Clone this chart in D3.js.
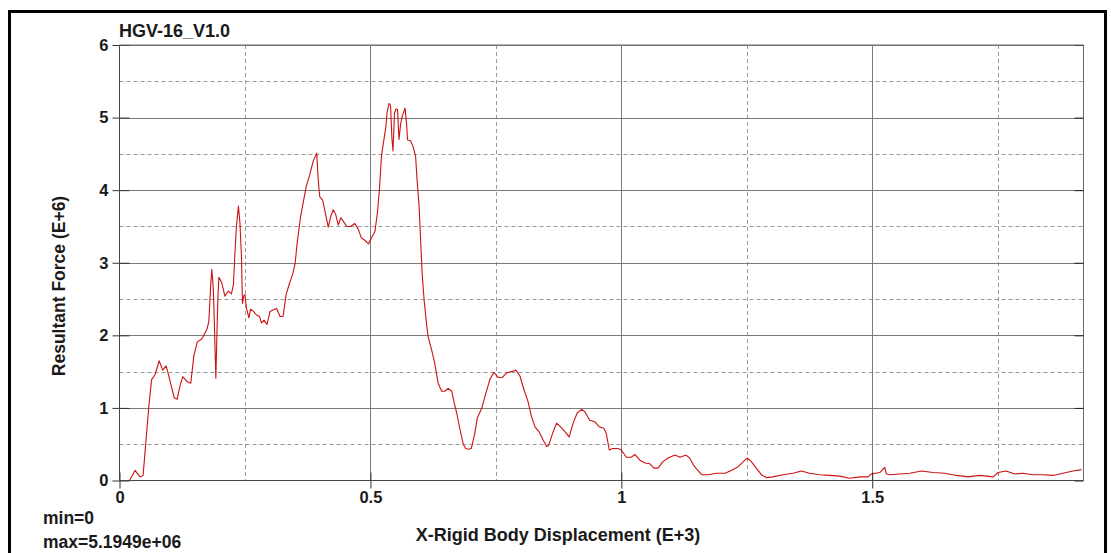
<!DOCTYPE html>
<html>
<head>
<meta charset="utf-8">
<script src="https://cdn.jsdelivr.net/npm/d3@7"></script>
<style>
  html, body { margin: 0; padding: 0; background: #fff; }
  svg { display: block; font-family: "Liberation Sans", Arial, sans-serif; }
  .lbl { font-weight: bold; fill: #1a1a1a; }
</style>
</head>
<body>
<svg id="chart" width="1111" height="553"></svg>
<script>
// Displacement (E+3) and resultant force (E+6) samples of the HGV-16_V1.0 run
const displacement = [
  0.000, 0.020, 0.031, 0.041, 0.047, 0.054, 0.059, 0.064, 0.071, 0.079,
  0.086, 0.093, 0.100, 0.109, 0.115, 0.120, 0.126, 0.135, 0.142, 0.148,
  0.155, 0.164, 0.174, 0.178, 0.182, 0.184, 0.187, 0.189, 0.191, 0.192,
  0.194, 0.196, 0.198, 0.204, 0.210, 0.217, 0.223, 0.227, 0.230, 0.233,
  0.237, 0.240, 0.243, 0.245, 0.248, 0.250, 0.253, 0.258, 0.261, 0.267,
  0.273, 0.279, 0.283, 0.288, 0.294, 0.300, 0.306, 0.313, 0.320, 0.326,
  0.332, 0.338, 0.345, 0.350, 0.354, 0.361, 0.372, 0.379, 0.386, 0.393,
  0.396, 0.399, 0.405, 0.410, 0.416, 0.421, 0.426, 0.431, 0.436, 0.441,
  0.446, 0.453, 0.460, 0.469, 0.476, 0.482, 0.489, 0.496, 0.502, 0.509,
  0.514, 0.518, 0.522, 0.527, 0.531, 0.533, 0.537, 0.540, 0.543, 0.545,
  0.548, 0.551, 0.554, 0.557, 0.560, 0.563, 0.569, 0.572, 0.574, 0.580,
  0.585, 0.590, 0.593, 0.597, 0.600, 0.603, 0.607, 0.611, 0.615, 0.622,
  0.628, 0.635, 0.642, 0.648, 0.655, 0.662, 0.668, 0.672, 0.678, 0.685,
  0.690, 0.696, 0.701, 0.708, 0.713, 0.722, 0.730, 0.738, 0.746, 0.755,
  0.763, 0.771, 0.781, 0.790, 0.798, 0.806, 0.814, 0.821, 0.828, 0.836,
  0.844, 0.851, 0.855, 0.863, 0.871, 0.879, 0.888, 0.896, 0.904, 0.912,
  0.921, 0.927, 0.937, 0.947, 0.956, 0.965, 0.970, 0.976, 0.983, 0.993,
  1.000, 1.010, 1.020, 1.027, 1.037, 1.047, 1.057, 1.065, 1.073, 1.083,
  1.093, 1.107, 1.117, 1.129, 1.136, 1.146, 1.160, 1.173, 1.190, 1.207,
  1.220, 1.233, 1.243, 1.251, 1.259, 1.269, 1.279, 1.289, 1.302, 1.322,
  1.342, 1.359, 1.375, 1.395, 1.415, 1.435, 1.455, 1.475, 1.492, 1.498,
  1.515, 1.525, 1.528, 1.535, 1.555, 1.575, 1.598, 1.621, 1.644, 1.668,
  1.691, 1.714, 1.741, 1.751, 1.767, 1.784, 1.800, 1.820, 1.840, 1.860,
  1.880, 1.900, 1.917
];
const force = [
  0.00, 0.00, 0.14, 0.05, 0.07, 0.65, 1.06, 1.39, 1.46, 1.65,
  1.52, 1.58, 1.39, 1.14, 1.12, 1.29, 1.43, 1.36, 1.34, 1.71,
  1.91, 1.95, 2.08, 2.19, 2.72, 2.91, 2.63, 2.17, 1.66, 1.41,
  1.98, 2.50, 2.80, 2.72, 2.54, 2.61, 2.57, 2.70, 3.13, 3.50,
  3.78, 3.55, 3.09, 2.44, 2.55, 2.56, 2.37, 2.24, 2.36, 2.33,
  2.28, 2.26, 2.17, 2.21, 2.15, 2.33, 2.35, 2.37, 2.26, 2.26,
  2.56, 2.70, 2.84, 2.99, 3.27, 3.64, 4.05, 4.21, 4.40, 4.51,
  4.14, 3.91, 3.86, 3.69, 3.49, 3.64, 3.73, 3.66, 3.52, 3.62,
  3.57, 3.50, 3.50, 3.54, 3.46, 3.34, 3.31, 3.26, 3.34, 3.43,
  3.69, 4.01, 4.47, 4.70, 4.88, 5.06, 5.1949, 5.17, 4.70, 4.54,
  5.06, 5.12, 5.11, 4.70, 4.90, 5.01, 5.13, 4.92, 4.69, 4.68,
  4.60, 4.47, 4.14, 3.78, 3.32, 2.86, 2.49, 2.21, 1.98, 1.80,
  1.62, 1.34, 1.23, 1.23, 1.27, 1.23, 1.04, 0.93, 0.72, 0.50,
  0.44, 0.43, 0.44, 0.65, 0.86, 1.00, 1.20, 1.39, 1.49, 1.42,
  1.42, 1.48, 1.50, 1.52, 1.44, 1.25, 1.09, 0.88, 0.74, 0.67,
  0.56, 0.47, 0.48, 0.65, 0.79, 0.74, 0.67, 0.60, 0.79, 0.93,
  0.98, 0.95, 0.83, 0.81, 0.74, 0.72, 0.65, 0.42, 0.44, 0.44,
  0.42, 0.32, 0.32, 0.36, 0.28, 0.24, 0.23, 0.17, 0.17, 0.26,
  0.31, 0.35, 0.32, 0.35, 0.31, 0.19, 0.08, 0.08, 0.10, 0.10,
  0.14, 0.19, 0.26, 0.31, 0.26, 0.17, 0.08, 0.04, 0.05, 0.08,
  0.10, 0.13, 0.10, 0.08, 0.07, 0.06, 0.03, 0.05, 0.05, 0.09,
  0.11, 0.18, 0.09, 0.08, 0.09, 0.10, 0.13, 0.11, 0.10, 0.07,
  0.05, 0.07, 0.05, 0.11, 0.13, 0.09, 0.10, 0.08, 0.08, 0.07,
  0.10, 0.13, 0.15
];
const xMajorTicks = [0, 0.5, 1, 1.5];
const xMinorGrid = [0.25, 0.75, 1.25, 1.75];
const yMajorTicks = [0, 1, 2, 3, 4, 5, 6];
const yMinorGrid = [0.5, 1.5, 2.5, 3.5, 4.5, 5.5];
const title = "HGV-16_V1.0";
const xTitle = "X-Rigid Body Displacement (E+3)";
const yTitle = "Resultant Force (E+6)";

const svg = d3.select("#chart");
const L = 119.5, R = 1083.5, T = 45, B = 480.5;

const x = d3.scaleLinear().domain([0, 1.921]).range([L, R]);
const y = d3.scaleLinear().domain([0, 6]).range([B, T]);

// outer black frame
svg.append("rect")
  .attr("x", 9.5).attr("y", 11.5).attr("width", 1096).attr("height", 560)
  .attr("fill", "none").attr("stroke", "#000").attr("stroke-width", 3);

// grid: dashed halves, solid integers
const grid = svg.append("g");
grid.selectAll("line.hmin").data(yMinorGrid).join("line")
  .attr("x1", L).attr("x2", R)
  .attr("y1", d => Math.round(y(d)) + 0.5).attr("y2", d => Math.round(y(d)) + 0.5)
  .attr("stroke", "#999").attr("stroke-dasharray", "4,3");
grid.selectAll("line.vmin").data(xMinorGrid).join("line")
  .attr("y1", T).attr("y2", B)
  .attr("x1", d => Math.round(x(d)) + 0.5).attr("x2", d => Math.round(x(d)) + 0.5)
  .attr("stroke", "#999").attr("stroke-dasharray", "4,3");
grid.selectAll("line.hmaj").data(yMajorTicks.slice(1)).join("line")
  .attr("x1", L).attr("x2", R)
  .attr("y1", d => Math.round(y(d)) + 0.5).attr("y2", d => Math.round(y(d)) + 0.5)
  .attr("stroke", "#7a7a7a");
grid.selectAll("line.vmaj").data(xMajorTicks.slice(1)).join("line")
  .attr("y1", T).attr("y2", B)
  .attr("x1", d => Math.round(x(d)) + 0.5).attr("x2", d => Math.round(x(d)) + 0.5)
  .attr("stroke", "#7a7a7a");
// right border
svg.append("line").attr("x1", R).attr("x2", R).attr("y1", T).attr("y2", B)
  .attr("stroke", "#6a6a6a");

// curve
const line = d3.line().x((d, i) => x(displacement[i])).y(d => y(d));
svg.append("path").datum(force)
  .attr("d", line)
  .attr("fill", "none").attr("stroke", "#cc1111").attr("stroke-width", 1.1)
  .attr("stroke-linejoin", "round");

// axes
const yAxis = svg.append("g").attr("transform", `translate(${L},0)`)
  .call(d3.axisLeft(y).tickValues(yMajorTicks).tickSize(7).tickPadding(4).tickFormat(d3.format("d")));
const yIn = svg.append("g").attr("transform", `translate(${L},0)`)
  .call(d3.axisRight(y).tickValues(yMajorTicks).tickSize(10).tickFormat(""));
const yInR = svg.append("g").attr("transform", `translate(${R},0)`)
  .call(d3.axisLeft(y).tickValues(yMajorTicks).tickSize(9).tickFormat(""));
const xAxis = svg.append("g").attr("transform", `translate(0,${B})`)
  .call(d3.axisBottom(x).tickValues(xMajorTicks).tickSize(8).tickPadding(3).tickFormat(d => String(d)));
const xIn = svg.append("g").attr("transform", `translate(0,${B})`)
  .call(d3.axisTop(x).tickValues(xMajorTicks).tickSize(8).tickFormat(""));

[yAxis, yIn, yInR, xAxis, xIn].forEach(g => {
  g.select(".domain").remove();
  g.selectAll(".tick line").attr("stroke", "#333");
});
[yAxis, xAxis].forEach(g => {
  g.selectAll(".tick text").attr("class", "lbl").style("font-size", "16.5px")
    .attr("fill", "#1a1a1a");
});
yInR.selectAll(".tick line").attr("stroke", "#222");

// left, bottom and top frame lines of the plot
svg.append("line").attr("x1", L).attr("x2", L).attr("y1", T).attr("y2", B)
  .attr("stroke", "#444");
svg.append("line").attr("x1", L).attr("x2", R).attr("y1", B).attr("y2", B)
  .attr("stroke", "#444");
svg.append("line").attr("x1", L).attr("x2", R).attr("y1", T).attr("y2", T)
  .attr("stroke", "#6a6a6a");

// texts
svg.append("text").attr("class", "lbl").attr("x", 119).attr("y", 37)
  .style("font-size", "18px").text(title);
svg.append("text").attr("class", "lbl").attr("x", 558).attr("y", 541)
  .attr("text-anchor", "middle").style("font-size", "18px").text(xTitle);
svg.append("text").attr("class", "lbl")
  .attr("transform", "translate(65,286) rotate(-90)")
  .attr("text-anchor", "middle").style("font-size", "17.5px").text(yTitle);
svg.append("text").attr("class", "lbl").attr("x", 43).attr("y", 524)
  .style("font-size", "17.5px").text("min=" + d3.min(force));
svg.append("text").attr("class", "lbl").attr("x", 43).attr("y", 548)
  .style("font-size", "17.5px").text("max=" + (d3.max(force) * 1e6).toExponential(4).replace("e+6", "e+06"));
</script>
</body>
</html>
